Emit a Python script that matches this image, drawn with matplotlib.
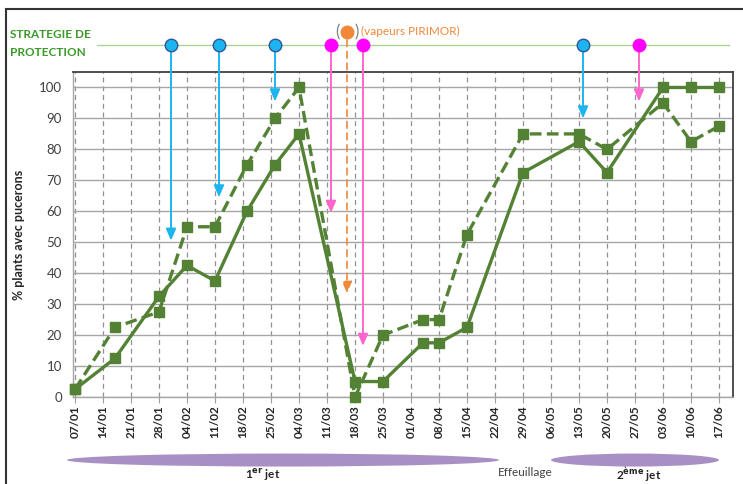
import matplotlib
matplotlib.use("Agg")
import matplotlib.pyplot as plt
import matplotlib.patches as mpatches
import matplotlib.transforms as mtransforms
import pandas as pd

plt.rcParams['font.family'] = ['Lato', 'DejaVu Sans']

YEAR = 2019
START = "07/01"

# ---- data ----
tick_labels = ["07/01", "14/01", "21/01", "28/01", "04/02", "11/02", "18/02", "25/02",
               "04/03", "11/03", "18/03", "25/03", "01/04", "08/04", "15/04", "22/04",
               "29/04", "06/05", "13/05", "20/05", "27/05", "03/06", "10/06", "17/06"]

obs_dates = ["07/01", "17/01", "28/01", "04/02", "11/02", "19/02", "26/02", "04/03",
             "18/03", "25/03", "04/04", "08/04", "15/04", "29/04", "13/05", "20/05",
             "03/06", "10/06", "17/06"]
serie_pleine = [2.5, 12.5, 32.5, 42.5, 37.5, 60, 75, 85,
                5, 5, 17.5, 17.5, 22.5, 72.5, 82.5, 72.5,
                100, 100, 100]
serie_tiretee = [2.5, 22.5, 27.5, 55, 55, 75, 90, 100,
                 0, 20, 25, 25, 52.5, 85, 85, 80,
                 95, 82.5, 87.5]

# treatments: date, type, arrow tip value
trait_dates = ["31/01", "12/02", "26/02", "12/03", "16/03", "20/03", "14/05", "28/05"]
trait_types = ["auxiliaire", "auxiliaire", "auxiliaire", "produit", "vapeur", "produit",
               "auxiliaire", "produit"]
trait_tips = [50.5, 64.5, 95.5, 59.5, 33.5, 16.5, 90, 95.5]

periods = [("05/01", "23/04"), ("06/05", "17/06")]
period_main = ["1", "2"]
period_sup = ["er", "ème"]
period_label_dates = ["23/02", "28/05"]
gap_label = "Effeuillage"


def day(s):
    d = pd.to_datetime(f"{s}/{YEAR}", format="%d/%m/%Y")
    return (d - pd.to_datetime(f"{START}/{YEAR}", format="%d/%m/%Y")).days


x_obs = [day(d) for d in obs_dates]
x_ticks = [day(d) for d in tick_labels]

GREEN = "#548235"
BLUE = "#1DB5F0"
MAG = "#FF00FF"
PINK = "#FF66CC"
ORANGE = "#F0883A"

fig = plt.figure(figsize=(7.43, 4.84), dpi=100)
ax = fig.add_axes([73/743, 1 - 397/484, 660/743, 325/484])

ax.plot(x_obs, serie_pleine, color=GREEN, lw=2.4, marker="s", ms=7.5,
        zorder=5, clip_on=False)
ax.plot(x_obs, serie_tiretee, color=GREEN, lw=2.4, ls=(0, (3.5, 1.6)), marker="s", ms=7.5,
        zorder=5, clip_on=False)

ax.set_xlim(-0.5, 164.5)
ax.set_ylim(0, 105)
ax.set_yticks(range(0, 101, 10))
ax.set_xticks(x_ticks)
ax.set_xticklabels(tick_labels, rotation=90, fontsize=8.5, fontweight="bold", color="#262626")
ax.tick_params(axis="y", length=0, labelsize=9.5, labelcolor="#404040", pad=8)
ax.tick_params(axis="x", length=4, color="#a0a0a0", pad=2)
ax.grid(axis="y", color="#a6a6a6", lw=1, ls="-")
ax.grid(axis="x", color="#909090", lw=0.9, ls=(0, (4, 3)))
ax.set_axisbelow(True)
for s in ["top", "right"]:
    ax.spines[s].set_color("#404040")
    ax.spines[s].set_linewidth(1.3)
for s in ["left", "bottom"]:
    ax.spines[s].set_color("#a6a6a6")
    ax.spines[s].set_linewidth(1)
ax.set_ylabel("% plants avec pucerons", fontsize=9, fontweight="bold", color="#262626", labelpad=10)

# ---- protection strategy row ----
Y_ROW = 113.7
ax.plot([5.5, 163.5], [Y_ROW, Y_ROW], color="#A9D18E", lw=0.9, clip_on=False, zorder=1)
for d, t, tip in zip(trait_dates, trait_types, trait_tips):
    x = day(d)
    if t == "auxiliaire":
        ax.annotate("", xy=(x, tip), xytext=(x, Y_ROW - 2.5), annotation_clip=False,
                    arrowprops=dict(arrowstyle="-|>,head_length=0.7,head_width=0.3",
                                    color=BLUE, lw=1.4, shrinkA=0, shrinkB=0), zorder=6)
        ax.plot([x], [Y_ROW], marker="o", ms=9, mfc=BLUE, mec="#2F5597", mew=1,
                clip_on=False, zorder=7)
    elif t == "produit":
        ax.annotate("", xy=(x, tip), xytext=(x, Y_ROW - 2.5), annotation_clip=False,
                    arrowprops=dict(arrowstyle="-|>,head_length=0.7,head_width=0.3",
                                    color=PINK, lw=1.4, shrinkA=0, shrinkB=0), zorder=6)
        ax.plot([x], [Y_ROW], marker="o", ms=9, mfc=MAG, mec=MAG,
                clip_on=False, zorder=7)
    else:
        yv = Y_ROW + 4.2
        ax.annotate("", xy=(x, tip), xytext=(x, yv - 2.5), annotation_clip=False,
                    arrowprops=dict(arrowstyle="-|>,head_length=0.7,head_width=0.3",
                                    color=ORANGE, lw=1.2, ls=(0, (4, 3)),
                                    shrinkA=0, shrinkB=0), zorder=6)
        ax.plot([x], [yv], marker="o", ms=9, mfc=ORANGE, mec=ORANGE,
                clip_on=False, zorder=7)
        ax.text(x - 2.4, yv, "(", ha="center", va="center", fontsize=12,
                color="#808080", clip_on=False)
        ax.text(x + 2.4, yv, ")", ha="center", va="center", fontsize=12,
                color="#808080", clip_on=False)
        ax.text(x + 3.5, yv + 0.3, "(vapeurs PIRIMOR)", ha="left", va="center",
                fontsize=8.5, color=ORANGE, clip_on=False)

fig.text(10/743, 1 - 35/484, "STRATEGIE DE", fontsize=8.5, fontweight="bold",
         color="#3A9A2A", va="center")
fig.text(10/743, 1 - 52/484, "PROTECTION", fontsize=8.5, fontweight="bold",
         color="#3A9A2A", va="center")

# ---- periods ----
trans = mtransforms.blended_transform_factory(ax.transData, ax.transAxes)
for (a, b), m, sup, ld in zip(periods, period_main, period_sup, period_label_dates):
    xa, xb = day(a), day(b)
    el = mpatches.Ellipse(((xa + xb) / 2, -0.194), xb - xa, 0.04, transform=trans,
                          facecolor="#A990C4", edgecolor="none", clip_on=False)
    ax.add_patch(el)
    lab = f"{m}$^{{\\mathbf{{{sup}}}}}$ jet"
    ax.text(day(ld), -0.238, lab, transform=trans, ha="center", va="center",
            fontsize=8.5, fontweight="bold", color="#262626", clip_on=False)
ax.text((day(periods[0][1]) + day(periods[1][0])) / 2, -0.232, gap_label, transform=trans,
        ha="center", va="center", fontsize=8.5, color="#404040", clip_on=False)

# ---- outer frame ----
fig.patches.append(mpatches.Rectangle((6/743, -0.1), 1.2, 1 + 0.1 - 9/484,
                                      transform=fig.transFigure, fill=False,
                                      edgecolor="#333333", lw=1.5))

fig.savefig("out.png", dpi=100)
